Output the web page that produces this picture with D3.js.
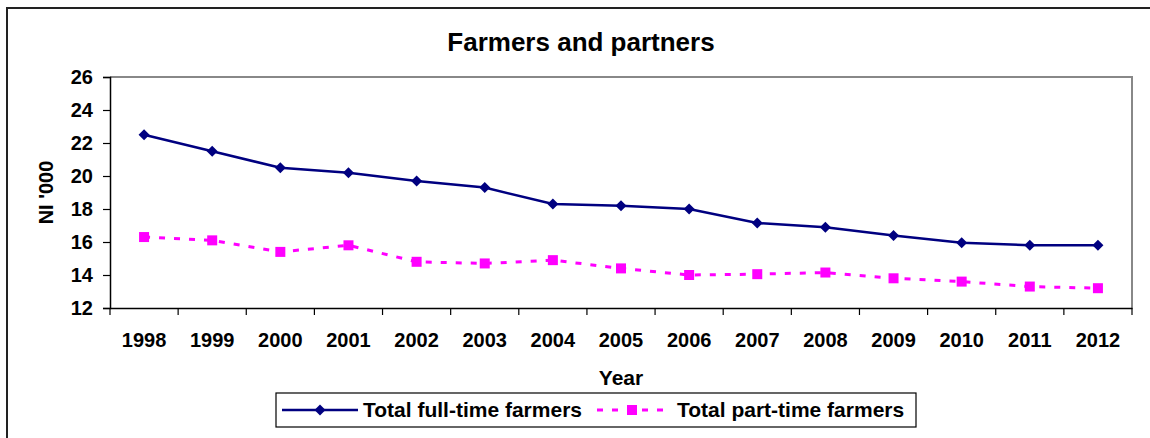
<!DOCTYPE html>
<html>
<head>
<meta charset="utf-8">
<title>Farmers and partners</title>
<script src="https://d3js.org/d3.v7.min.js"></script>
<style>
  body { margin: 0; background: #fff; }
  svg text { font-family: "Liberation Sans", Arial, sans-serif; font-weight: bold; fill: #000; }
</style>
</head>
<body>
<div id="chart"></div>
<script>
// data
var years = ["1998","1999","2000","2001","2002","2003","2004","2005","2006","2007","2008","2009","2010","2011","2012"];
var fullTime = [22.5, 21.5, 20.5, 20.2, 19.7, 19.3, 18.3, 18.2, 18.0, 17.15, 16.9, 16.4, 15.95, 15.8, 15.8];
var partTime = [16.3, 16.1, 15.4, 15.8, 14.8, 14.7, 14.9, 14.4, 14.0, 14.05, 14.15, 13.8, 13.6, 13.3, 13.2];
var yTicks = [12, 14, 16, 18, 20, 22, 24, 26];

var W = 1150, H = 438;
var plot = { left: 110, top: 77, right: 1132, bottom: 308 };

var svg = d3.select("#chart").append("svg")
    .attr("width", W).attr("height", H);

// outer chart border
svg.append("rect")
    .attr("x", 7).attr("y", 8).attr("width", 1150).attr("height", 440)
    .attr("fill", "#fff").attr("stroke", "#222").attr("stroke-width", 2);

var x = d3.scaleBand().domain(years).range([plot.left, plot.right]);
var y = d3.scaleLinear().domain([12, 26]).range([plot.bottom, plot.top]);

// plot area frame (gray top/right)
svg.append("path")
    .attr("d", "M" + plot.left + "," + plot.top + "H" + plot.right + "V" + plot.bottom)
    .attr("fill", "none").attr("stroke", "#888").attr("stroke-width", 2);

// y axis
var yAxis = svg.append("g")
    .attr("transform", "translate(" + plot.left + ",0)")
    .call(d3.axisLeft(y).tickValues(yTicks).tickSize(7).tickPadding(10));
yAxis.select(".domain").attr("stroke", "#000").attr("stroke-width", 1.5);
yAxis.selectAll(".tick line").attr("stroke", "#000").attr("stroke-width", 1.2);
yAxis.selectAll("text").style("font-size", "20px").attr("font-family", null).attr("fill", "#000");

// x axis: ticks on category boundaries
var xAxis = svg.append("g")
    .attr("transform", "translate(0," + plot.bottom + ")")
    .call(d3.axisBottom(x).tickSize(0).tickPadding(25));
xAxis.select(".domain").attr("stroke", "#000").attr("stroke-width", 1.5);
xAxis.selectAll("text").style("font-size", "20px").attr("font-family", null).attr("fill", "#000");
xAxis.selectAll(".bound")
    .data(years.concat(["end"]))
    .enter().append("line")
    .attr("x1", function (d, i) { return plot.left + i * x.bandwidth(); })
    .attr("x2", function (d, i) { return plot.left + i * x.bandwidth(); })
    .attr("y1", 0).attr("y2", 7)
    .attr("stroke", "#000").attr("stroke-width", 1.2);

function cx(i) { return x(years[i]) + x.bandwidth() / 2; }

var line = d3.line()
    .x(function (d, i) { return cx(i); })
    .y(function (d) { return y(d); });

// part-time series (dashed magenta with squares)
svg.append("path")
    .datum(partTime)
    .attr("d", line)
    .attr("fill", "none").attr("stroke", "#ff00ff")
    .attr("stroke-width", 3).attr("stroke-dasharray", "6,9");
svg.selectAll(".sq")
    .data(partTime)
    .enter().append("rect")
    .attr("x", function (d, i) { return cx(i) - 5; })
    .attr("y", function (d) { return y(d) - 5; })
    .attr("width", 10).attr("height", 10)
    .attr("fill", "#ff00ff");

// full-time series (solid navy with diamonds)
svg.append("path")
    .datum(fullTime)
    .attr("d", line)
    .attr("fill", "none").attr("stroke", "#000080").attr("stroke-width", 2.5);
var diamond = "M0,-5.5L5.5,0L0,5.5L-5.5,0Z";
svg.selectAll(".dm")
    .data(fullTime)
    .enter().append("path")
    .attr("d", diamond)
    .attr("transform", function (d, i) { return "translate(" + cx(i) + "," + y(d) + ")"; })
    .attr("fill", "#000080");

// titles
svg.append("text")
    .attr("x", 581).attr("y", 51)
    .attr("text-anchor", "middle").style("font-size", "26px")
    .text("Farmers and partners");
svg.append("text")
    .attr("x", (plot.left + plot.right) / 2).attr("y", 385)
    .attr("text-anchor", "middle").style("font-size", "21px")
    .text("Year");
svg.append("text")
    .attr("transform", "translate(53," + (plot.top + plot.bottom) / 2 + ") rotate(-90)")
    .attr("text-anchor", "middle").style("font-size", "20px")
    .text("NI '000");

// legend
var lg = svg.append("g");
lg.append("rect")
    .attr("x", 276).attr("y", 393).attr("width", 640).attr("height", 34)
    .attr("fill", "#fff").attr("stroke", "#000").attr("stroke-width", 1.2);
lg.append("line")
    .attr("x1", 282).attr("x2", 358).attr("y1", 410).attr("y2", 410)
    .attr("stroke", "#000080").attr("stroke-width", 2.5);
lg.append("path")
    .attr("d", diamond).attr("transform", "translate(320,410)")
    .attr("fill", "#000080");
lg.append("text")
    .attr("x", 363).attr("y", 417).style("font-size", "21px")
    .text("Total full-time farmers");
lg.append("line")
    .attr("x1", 597).attr("x2", 665).attr("y1", 410).attr("y2", 410)
    .attr("stroke", "#ff00ff").attr("stroke-width", 3).attr("stroke-dasharray", "6,9");
lg.append("rect")
    .attr("x", 627).attr("y", 405).attr("width", 10).attr("height", 10)
    .attr("fill", "#ff00ff");
lg.append("text")
    .attr("x", 677).attr("y", 417).style("font-size", "21px")
    .text("Total part-time farmers");
</script>
</body>
</html>
